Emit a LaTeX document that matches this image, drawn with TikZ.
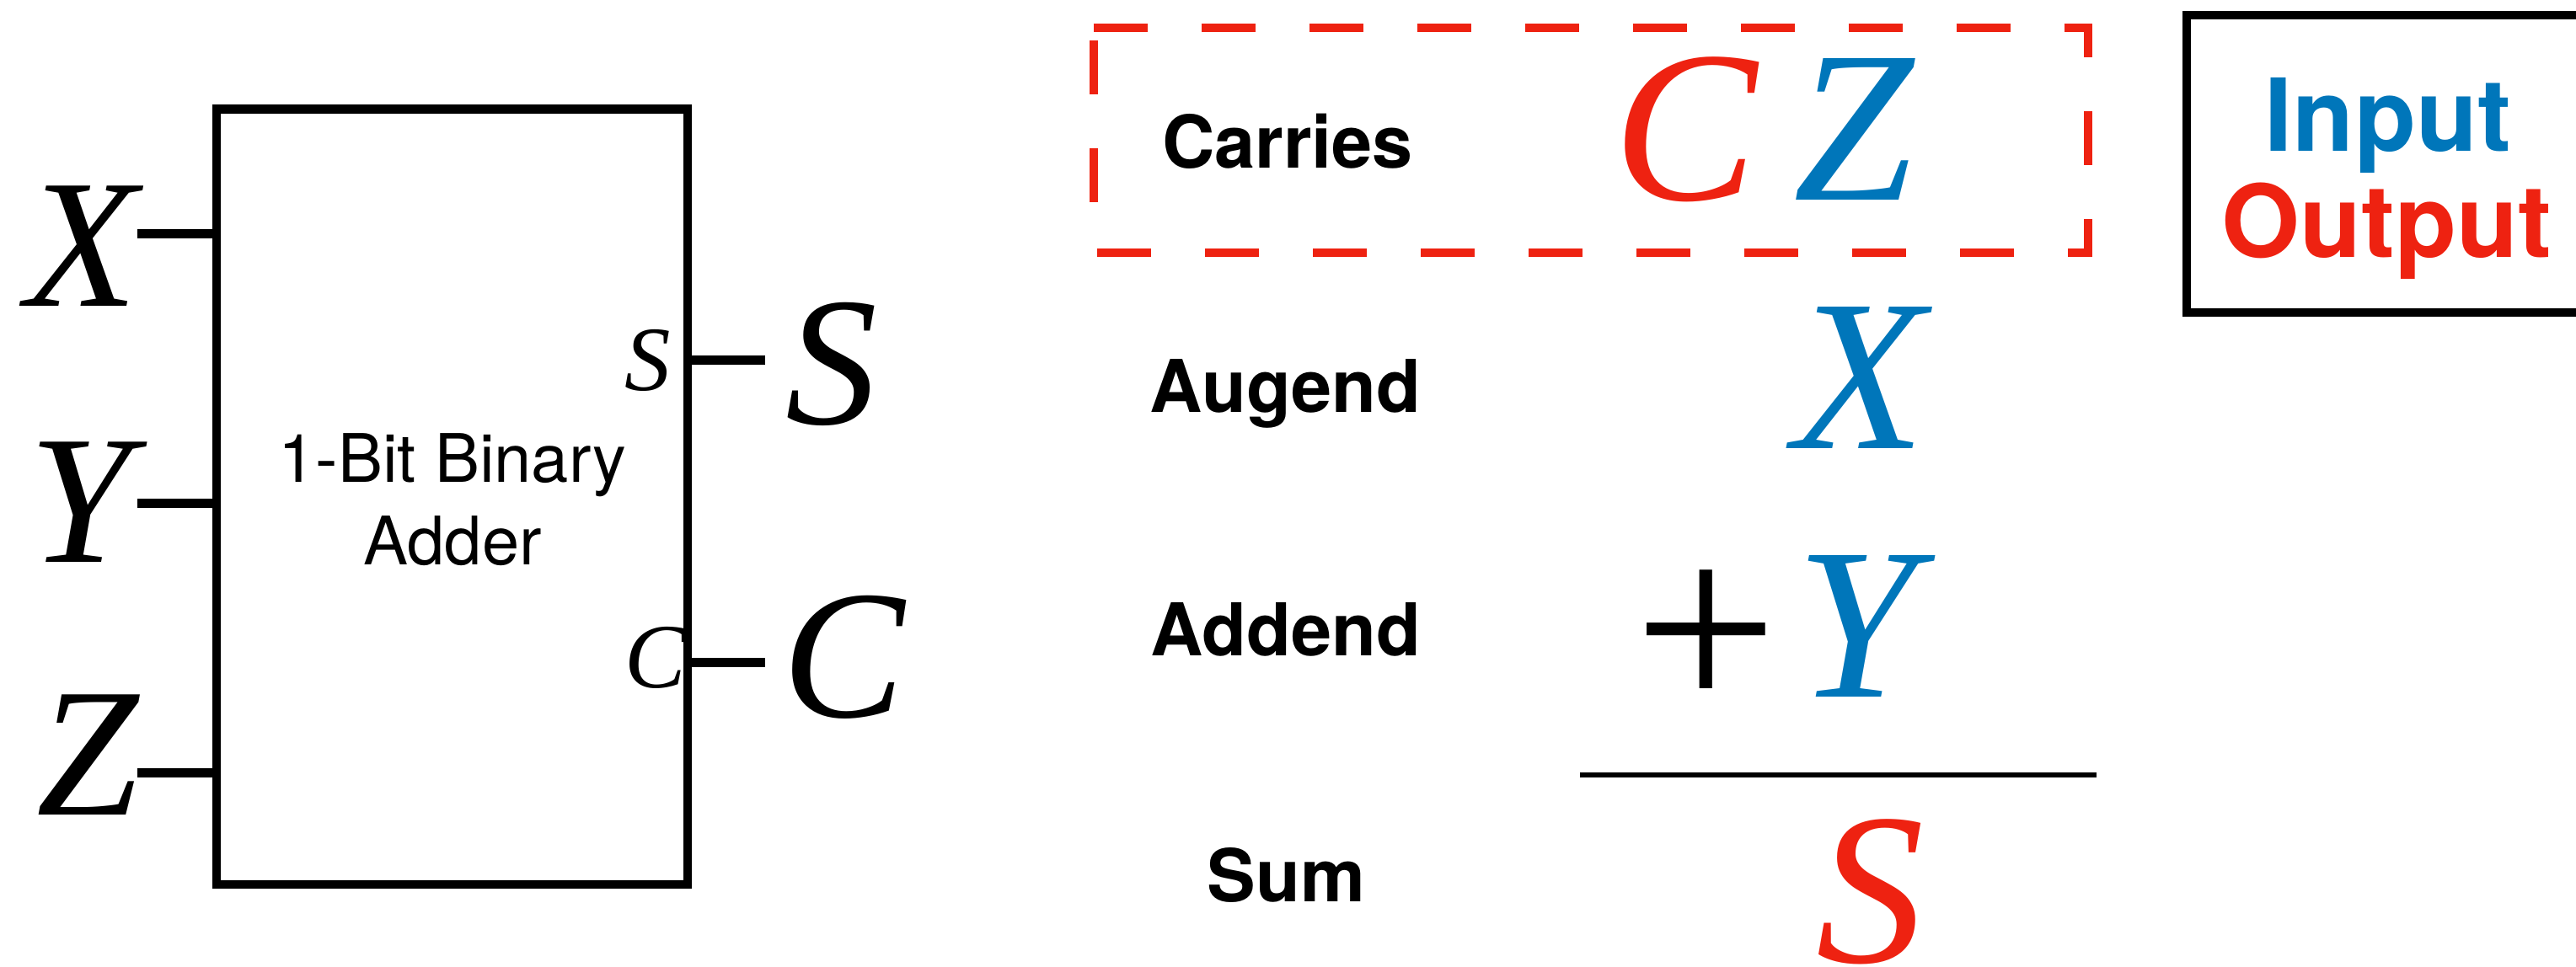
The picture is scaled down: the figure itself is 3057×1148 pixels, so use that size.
\documentclass[tikz,border=0pt]{standalone}
\usepackage{fontspec}
\setmainfont{Liberation Serif}
\newfontfamily\helv{TeX Gyre Heros}
\definecolor{myred}{RGB}{238,34,17}
\definecolor{myblue}{RGB}{0,118,186}
\begin{document}
\begin{tikzpicture}[x=0.1mm,y=-0.1mm,
  every node/.style={inner sep=0pt,outer sep=0pt},
  wire/.style={line width=1.05mm},
  bigvar/.style={font=\fontsize{62}{62}\selectfont\itshape,anchor=base},
  smallvar/.style={font=\fontsize{31}{31}\selectfont\itshape,anchor=base},
  eqvar/.style={font=\fontsize{73}{73}\selectfont\itshape,anchor=base},
  rowlabel/.style={font=\helv\bfseries\fontsize{24.6}{24.6}\selectfont,anchor=base},
  boxtext/.style={font=\helv\fontsize{22.6}{22.6}\selectfont,anchor=base},
  legendtext/.style={font=\helv\bfseries\fontsize{34}{34}\selectfont,anchor=base},
  carryframe/.style={draw=myred,line width=1mm,dash pattern=on 6.4mm off 6.4mm,miter limit=10}]
\useasboundingbox (0,0) rectangle (3057,1148);

% adder block
\node[draw,line width=1.05mm,minimum width=55.9mm,minimum height=92.05mm] (box) at (536.5,589.75) {};
\node[boxtext] (t1) at (537,572) {1-Bit Binary};
\node[boxtext] (t2) at (537,670) {Adder};

% inputs
\node[bigvar] (lX) at (97.5,363) {X};
\node[bigvar] (lY) at (95,667) {Y};
\node[bigvar] (lZ) at (104.5,967) {Z};
\coordinate (pX) at (163,277.5);
\coordinate (pY) at (163,597.5);
\coordinate (pZ) at (163,917.5);
\draw[wire] (pX) -- (pX -| box.west);
\draw[wire] (pY) -- (pY -| box.west);
\draw[wire] (pZ) -- (pZ -| box.west);

% outputs
\node[smallvar] (ls) at (769,463) {S};
\node[smallvar] (lc) at (777.5,816) {C};
\coordinate (pS) at (908,427.5);
\coordinate (pC) at (908,786.5);
\draw[wire] (pS -| box.east) -- (pS);
\draw[wire] (pC -| box.east) -- (pC);
\node[bigvar] (oS) at (987,503) {S};
\node[bigvar] (oC) at (1001.5,851) {C};

% addition table
\coordinate (f1) at (1297.5,33);
\coordinate (f2) at (2478,33);
\coordinate (f3) at (2478,300);
\coordinate (f4) at (1297.5,300);
\draw[carryframe] (f1) -- (f2) -- (f3) -- (f4) -- cycle;

\node[rowlabel] (carries) at (1528,200) {Carries};
\node[rowlabel] (augend) at (1525.5,489) {Augend};
\node[rowlabel] (addend) at (1525.5,778) {Addend};
\node[rowlabel] (sum) at (1526.5,1070) {Sum};

\node[eqvar,text=myred] (cC) at (2000,237) {C};
\node[eqvar,text=myblue] (cZ) at (2200,237) {Z};
\node[eqvar,text=myblue] (aX) at (2207,532) {X};
\node[font=\fontsize{86}{86}\selectfont,anchor=center] (plus) at (2024.5,762.5) {+};
\node[eqvar,text=myblue] (aY) at (2203,827) {Y};
\coordinate (r1) at (1875,919.5);
\coordinate (r2) at (2488,919.5);
\draw[line width=0.6mm] (r1) -- (r2);
\node[eqvar,text=myred] (sS) at (2219.5,1142) {S};

% legend
\node[draw,line width=1.05mm,minimum width=48.5mm,minimum height=35.3mm] (legend) at (2837.5,194.5) {};
\node[legendtext,text=myblue] (lin) at (2833.5,180) {Input};
\node[legendtext,text=myred] (lout) at (2832.5,305) {Output};
\end{tikzpicture}
\end{document}
